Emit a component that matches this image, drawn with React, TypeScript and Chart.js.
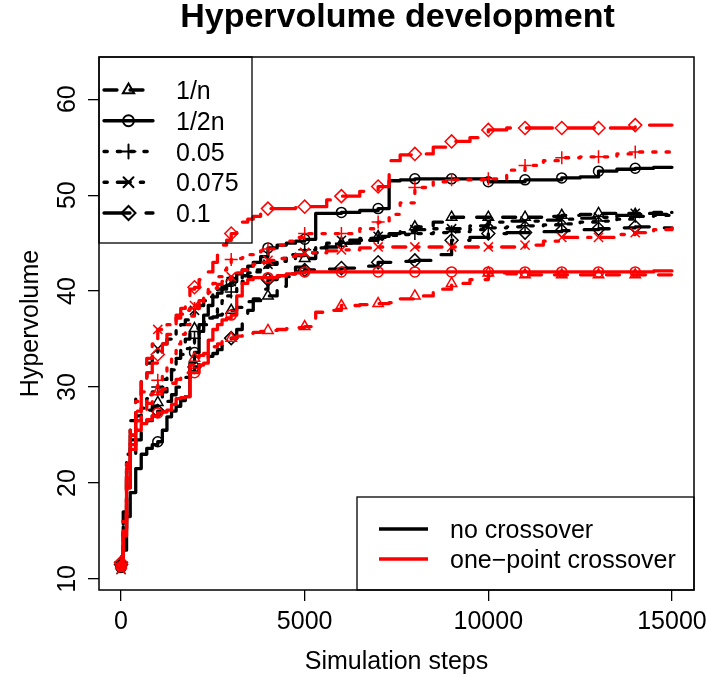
import React, { useEffect, useRef } from "react";
import { Chart, registerables } from "chart.js";

Chart.register(...registerables);

// ---------------- data ----------------
const steps = [
  0, 60, 150, 250, 400, 550, 700, 850,
  1000, 1125, 1250, 1375, 1500, 1625, 1750, 1875, 2000, 2125, 2250, 2375, 2500, 2625, 2750, 2875,
  3000, 3150, 3300, 3450, 3600, 3800, 4000, 4250, 4500, 4750,
  5000, 5300, 5600, 6000, 6500, 7000, 7300, 7600, 8000, 8500, 9000, 9500, 10000, 10500,
  11000, 11500, 12000, 12500, 13000, 13500, 14000, 14500, 15000,
];

const rates = ["1/n", "1/2n", "0.05", "0.075", "0.1"];
const crossovers = ["no crossover", "one\u2212point crossover"];
const xTicks = [0, 5000, 10000, 15000];
const yTicks = [10, 20, 30, 40, 50, 60];

// no crossover (black)
const noX_1n = [11.6, 16.0, 21.5, 25.0, 27.0, 27.3, 27.6, 28.0,
  28.4, 29.5, 30.5, 31.8, 33.0, 34.0, 35.0, 35.6, 36.1, 36.5, 36.8, 37.1, 37.3, 37.5, 37.6, 37.8, 38.0, 38.3, 38.5, 38.9, 39.2, 39.4, 39.5, 40.5, 41.5, 42.5,
  43.4, 44.0, 44.6, 45.0, 45.3, 45.7, 46.0, 46.3, 46.7, 47.2, 47.7, 47.7, 47.7, 47.7, 47.7, 47.8, 47.9, 48.0, 48.1, 48.1, 48.0, 48.0, 48.0];
const noX_12n = [11.2, 13.0, 16.5, 19.0, 21.5, 23.0, 23.6, 24.0,
  24.3, 25.5, 26.9, 27.5, 28.0, 28.6, 29.0, 32.5, 33.6, 35.8, 37.5, 38.5, 39.4, 39.8, 40.2, 40.6, 41.0, 41.8, 42.2, 42.6, 43.0, 43.6, 44.5, 44.8, 45.0, 45.2,
  45.4, 48.1, 48.1, 48.2, 48.4, 48.6, 51.5, 51.6, 51.7, 51.7, 51.7, 51.7, 51.4, 51.4, 51.6, 51.6, 51.8, 51.9, 52.5, 52.7, 52.8, 52.9, 52.9];
const noX_005 = [11.8, 16.5, 21.5, 24.5, 26.5, 27.8, 28.8, 29.5,
  30.0, 30.8, 31.5, 32.2, 32.8, 33.4, 34.0, 34.6, 35.1, 35.8, 36.5, 37.2, 37.8, 38.4, 39.0, 39.5, 39.9, 40.5, 41.0, 41.5, 42.0, 42.5, 43.0, 43.4, 43.8, 44.0,
  44.3, 44.6, 44.8, 45.0, 45.3, 45.6, 45.8, 45.9, 46.0, 46.1, 46.2, 46.4, 46.6, 46.7, 46.8, 46.9, 47.0, 47.2, 47.3, 47.5, 47.8, 47.9, 48.0];
const noX_0075 = [11.0, 17.0, 23.0, 26.5, 29.0, 31.0, 32.5, 33.4,
  34.0, 34.5, 35.0, 35.5, 36.0, 36.5, 37.0, 37.5, 38.0, 38.5, 39.0, 39.4, 39.8, 40.2, 40.5, 40.8, 41.0, 41.3, 41.6, 41.9, 42.2, 42.5, 42.8, 43.1, 43.4, 43.7,
  44.0, 44.5, 45.0, 45.3, 45.5, 45.7, 45.9, 46.1, 46.4, 46.5, 46.5, 46.8, 47.2, 47.3, 47.3, 47.4, 47.5, 47.6, 47.7, 47.9, 48.1, 48.2, 48.2];
const noX_01 = [11.5, 15.0, 19.5, 22.5, 24.5, 25.8, 26.5, 27.0,
  27.5, 28.0, 28.5, 29.2, 30.0, 30.5, 31.0, 31.6, 32.1, 32.5, 32.8, 33.2, 33.5, 33.9, 34.3, 34.7, 35.1, 36.0, 37.0, 38.0, 39.0, 40.2, 41.2, 41.5, 41.8, 42.0,
  42.2, 42.2, 42.3, 42.4, 42.6, 43.0, 43.0, 43.1, 43.2, 43.8, 45.3, 45.6, 46.0, 46.1, 46.1, 46.2, 46.3, 46.4, 46.5, 46.6, 46.7, 46.6, 46.5];

// one-point crossover (red)
const opX_1n = [11.4, 15.0, 20.5, 24.0, 26.5, 27.5, 28.3, 29.0,
  29.5, 29.8, 30.0, 30.4, 30.8, 31.2, 31.5, 32.3, 33.0, 33.3, 33.5, 33.9, 34.2, 34.5, 34.8, 35.0, 35.1, 35.3, 35.4, 35.6, 35.7, 35.8, 35.9, 36.0, 36.1, 36.2,
  36.3, 37.8, 38.0, 38.5, 38.6, 38.7, 38.8, 39.2, 39.5, 40.2, 40.8, 41.2, 41.9, 41.8, 41.7, 41.7, 41.7, 41.7, 41.7, 41.7, 41.7, 41.7, 41.6];
const opX_12n = [11.3, 14.5, 19.5, 23.5, 25.5, 26.2, 26.6, 27.0,
  27.3, 27.4, 27.6, 28.2, 28.8, 28.9, 29.0, 31.5, 31.5, 32.3, 32.5, 34.9, 36.0, 36.5, 37.0, 37.2, 37.5, 39.5, 40.8, 41.2, 41.4, 41.4, 41.4, 41.6, 41.8, 41.9,
  42.0, 42.0, 42.0, 42.0, 42.0, 42.0, 42.0, 42.0, 42.0, 42.0, 42.0, 42.0, 42.0, 42.0, 42.0, 42.0, 42.0, 42.0, 42.0, 42.0, 42.0, 42.1, 42.1];
const opX_005 = [11.5, 15.0, 20.5, 24.0, 26.5, 28.0, 29.2, 30.0,
  30.7, 31.6, 32.5, 33.5, 34.5, 35.5, 36.5, 37.4, 38.2, 38.9, 39.5, 40.2, 40.8, 41.5, 42.2, 42.8, 43.3, 43.4, 43.5, 43.8, 44.0, 44.2, 44.4, 44.8, 45.2, 45.6,
  46.0, 46.0, 46.0, 46.0, 46.5, 47.2, 48.0, 49.2, 50.8, 51.4, 51.6, 51.6, 51.7, 52.6, 53.1, 53.6, 53.9, 54.0, 54.0, 54.3, 54.5, 54.5, 54.5];
const opX_0075 = [11.0, 16.0, 22.0, 25.5, 28.5, 31.0, 33.0, 34.5,
  36.0, 36.2, 36.5, 36.9, 37.2, 37.6, 38.0, 38.3, 38.5, 39.0, 39.5, 39.9, 40.3, 40.7, 41.0, 41.2, 41.5, 41.9, 42.2, 42.5, 42.8, 43.0, 43.2, 43.4, 43.6, 43.8,
  44.0, 44.0, 44.2, 44.3, 44.5, 44.6, 44.6, 44.6, 44.6, 44.6, 44.6, 44.6, 44.6, 44.6, 44.8, 45.2, 45.6, 45.6, 45.6, 45.9, 46.1, 46.4, 46.6];
const opX_01 = [11.7, 15.5, 21.5, 25.0, 27.5, 29.5, 31.5, 32.5,
  33.4, 34.5, 35.5, 36.6, 37.5, 38.2, 39.0, 40.2, 40.4, 41.2, 41.8, 42.0, 43.0, 44.0, 44.8, 45.3, 46.0, 46.8, 47.2, 47.5, 47.8, 48.2, 48.6, 48.6, 48.6, 48.7,
  48.8, 48.8, 49.5, 49.9, 50.4, 50.9, 53.6, 54.2, 54.3, 55.0, 55.6, 56.0, 56.8, 57.0, 57.0, 57.0, 57.0, 57.0, 57.0, 57.0, 57.3, 57.3, 57.3];

const noXoverSeries = [noX_1n, noX_12n, noX_005, noX_0075, noX_01];
const opXoverSeries = [opX_1n, opX_12n, opX_005, opX_0075, opX_01];

// ---------------- styles ----------------
const FONT = "'Liberation Sans', Arial, Helvetica, sans-serif";
const LW = 3.3;
const colors = ["#000000", "#ff0000"];
const dashes: number[][] = [
  [13, 13],
  [],
  [3.3, 10],
  [3.3, 10, 13, 10],
  [26, 16],
];
const pointStyles = ["triangle", "circle", "cross", "crossRot", "rectRot"];
const pointSizes = [6, 5, 6.5, 6.5, 6.5];

function drawMarker(ctx: CanvasRenderingContext2D, style: string, x: number, y: number, r: number) {
  ctx.beginPath();
  if (style === "circle") {
    ctx.arc(x, y, r, 0, Math.PI * 2);
  } else if (style === "triangle") {
    ctx.moveTo(x, y - r);
    ctx.lineTo(x + r * 0.866, y + r * 0.5);
    ctx.lineTo(x - r * 0.866, y + r * 0.5);
    ctx.closePath();
  } else if (style === "cross") {
    ctx.moveTo(x - r, y);
    ctx.lineTo(x + r, y);
    ctx.moveTo(x, y - r);
    ctx.lineTo(x, y + r);
  } else if (style === "crossRot") {
    const d = r * 0.707;
    ctx.moveTo(x - d, y - d);
    ctx.lineTo(x + d, y + d);
    ctx.moveTo(x - d, y + d);
    ctx.lineTo(x + d, y - d);
  } else {
    ctx.moveTo(x - r, y);
    ctx.lineTo(x, y - r);
    ctx.lineTo(x + r, y);
    ctx.lineTo(x, y + r);
    ctx.closePath();
  }
  ctx.stroke();
}

const decorPlugin = {
  id: "decor",
  afterDraw(chart: any) {
    const { ctx, chartArea } = chart;
    const xs = chart.scales.x;
    const ys = chart.scales.y;
    const { left, right, top, bottom } = chartArea;
    const cx = (left + right) / 2;
    const cy = (top + bottom) / 2;
    ctx.save();
    ctx.setLineDash([]);
    ctx.strokeStyle = "#000";
    ctx.lineWidth = 1.5;
    ctx.strokeRect(left, top, right - left, bottom - top);

    ctx.fillStyle = "#000";
    // title
    ctx.font = `bold 34px ${FONT}`;
    ctx.textAlign = "center";
    ctx.textBaseline = "alphabetic";
    ctx.fillText("Hypervolume development", cx + 1, 27);

    // x tick labels
    ctx.font = `25px ${FONT}`;
    xs.ticks.forEach((t: any) => {
      ctx.fillText(String(t.value), xs.getPixelForValue(t.value), 629);
    });
    ctx.fillText("Simulation steps", cx, 669);

    // y tick labels (rotated)
    ys.ticks.forEach((t: any) => {
      ctx.save();
      ctx.translate(75, ys.getPixelForValue(t.value));
      ctx.rotate(-Math.PI / 2);
      ctx.fillText(String(t.value), 0, 0);
      ctx.restore();
    });
    ctx.save();
    ctx.translate(38, cy);
    ctx.rotate(-Math.PI / 2);
    ctx.fillText("Hypervolume", 0, 0);
    ctx.restore();

    // legend 1: mutation rates
    ctx.lineWidth = 1.3;
    ctx.strokeRect(left, top, 252 - left, 243 - top);
    ctx.textAlign = "left";
    rates.forEach((label, i) => {
      const y = 90 + i * 30.75;
      ctx.strokeStyle = "#000";
      ctx.lineWidth = LW;
      ctx.lineCap = "round";
      ctx.setLineDash(dashes[i]);
      ctx.beginPath();
      ctx.moveTo(104, y);
      ctx.lineTo(153, y);
      ctx.stroke();
      ctx.setLineDash([]);
      ctx.lineWidth = 2;
      drawMarker(ctx, pointStyles[i], 128.5, y, pointSizes[i] + 0.5);
      ctx.fillText(label, 176, y + 9);
    });

    // legend 2: crossover
    ctx.lineWidth = 1.3;
    ctx.lineCap = "butt";
    ctx.strokeRect(357, 497, right - 357, bottom - 497);
    crossovers.forEach((label, i) => {
      const y = 529 + i * 30;
      ctx.strokeStyle = colors[i];
      ctx.lineWidth = LW;
      ctx.beginPath();
      ctx.moveTo(379, y);
      ctx.lineTo(428, y);
      ctx.stroke();
      ctx.fillStyle = "#000";
      ctx.fillText(label, 450, y + 9);
    });
    ctx.restore();
  },
};

function buildDatasets() {
  const ds: any[] = [];
  const groups = [opXoverSeries, noXoverSeries];
  const groupColor = [colors[1], colors[0]];
  const groupName = [crossovers[1], crossovers[0]];
  groups.forEach((series, g) => {
    series.forEach((vals, i) => {
      ds.push({
        label: `${groupName[g]} ${rates[i]}`,
        data: steps.map((x, k) => ({ x, y: vals[k] })),
        borderColor: groupColor[g],
        borderWidth: LW,
        borderDash: dashes[i],
        borderCapStyle: "round",
        borderJoinStyle: "round",
        stepped: "before",
        fill: false,
        pointStyle: pointStyles[i],
        pointRadius: (c: any) => {
          const s = steps[c.dataIndex];
          return s % 1000 === 0 && s < 15000 ? pointSizes[i] : 0;
        },
        pointBorderColor: groupColor[g],
        pointBackgroundColor: "rgba(0,0,0,0)",
        pointBorderWidth: 1.5,
        pointHitRadius: 0,
      });
    });
  });
  return ds;
}

export default function App() {
  const ref = useRef<HTMLCanvasElement | null>(null);
  useEffect(() => {
    if (!ref.current) return;
    const chart = new Chart(ref.current, {
      type: "line",
      data: { datasets: buildDatasets() },
      options: {
        responsive: false,
        animation: false,
        devicePixelRatio: 1,
        events: [],
        layout: { padding: { top: 57, right: 14, left: 0, bottom: 0 } },
        plugins: { legend: { display: false }, title: { display: false }, tooltip: { enabled: false } },
        scales: {
          x: {
            type: "linear",
            min: -600,
            max: 15600,
            afterBuildTicks: (s: any) => {
              s.ticks = xTicks.map((v) => ({ value: v }));
            },
            afterFit: (s: any) => {
              s.height = 89;
            },
            grid: { drawOnChartArea: false, drawTicks: true, tickLength: 11, color: "#000", lineWidth: 1.3 },
            border: { display: false },
            ticks: { autoSkip: false, color: "rgba(0,0,0,0)", font: { size: 1 } },
          },
          y: {
            type: "linear",
            min: 8.85,
            max: 64.4,
            afterBuildTicks: (s: any) => {
              s.ticks = yTicks.map((v) => ({ value: v }));
            },
            afterFit: (s: any) => {
              s.width = 99;
            },
            grid: { drawOnChartArea: false, drawTicks: true, tickLength: 11, color: "#000", lineWidth: 1.3 },
            border: { display: false },
            ticks: { autoSkip: false, color: "rgba(0,0,0,0)", font: { size: 1 } },
          },
        },
      },
      plugins: [decorPlugin],
    } as any);
    return () => chart.destroy();
  }, []);
  return (
    <div style={{ position: "fixed", left: 0, top: 0, width: 708, height: 679, background: "#fff" }}>
      <canvas ref={ref} width={708} height={679} />
    </div>
  );
}
